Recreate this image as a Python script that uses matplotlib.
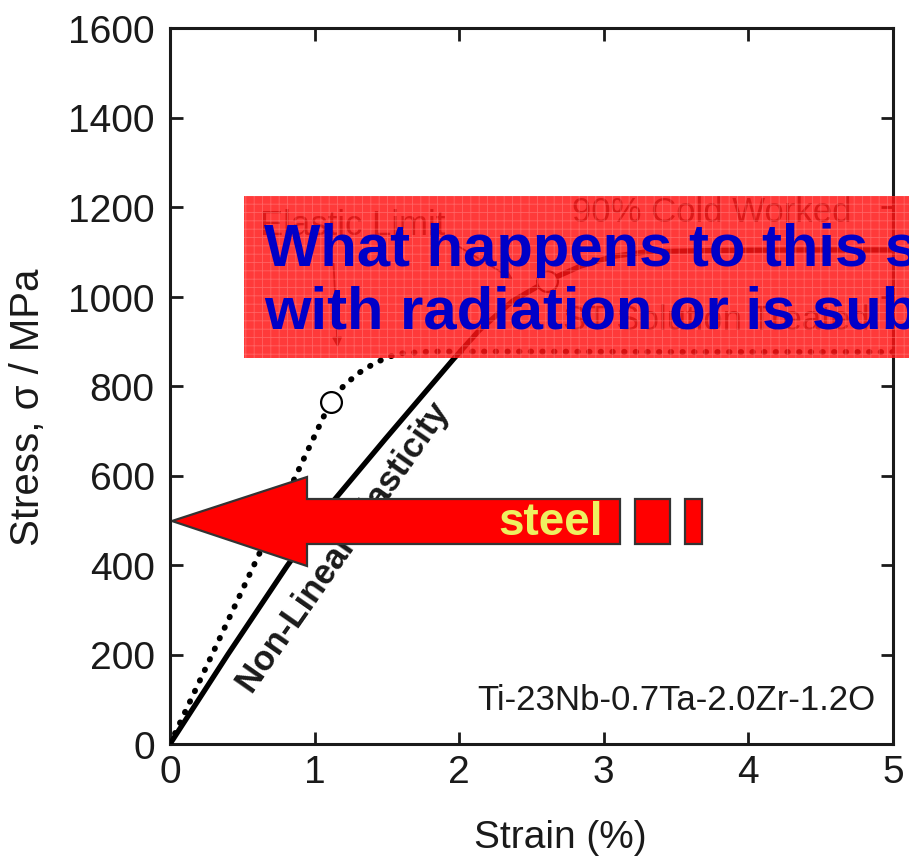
import matplotlib
matplotlib.use("Agg")
import matplotlib.pyplot as plt
from matplotlib.patches import Rectangle, Polygon

plt.rcParams['font.family'] = ['Liberation Sans', 'DejaVu Sans']

# 90% cold worked alloy (solid curve)
cw_strain = [0.0, 0.40, 0.81, 1.14, 1.49, 1.96, 2.14, 2.37, 2.61, 2.84, 3.07, 3.30, 3.80, 4.40, 5.00]
cw_stress = [0, 200, 398, 547, 682, 860, 925, 990, 1035, 1068, 1090, 1100, 1103, 1104, 1104]

# solution treated alloy (dotted curve)
st_strain = [0.0, 0.30, 0.60, 0.90, 1.11, 1.20, 1.30, 1.40, 1.50, 1.60, 1.80, 2.50, 3.50, 5.00]
st_stress = [0, 206, 413, 620, 764, 800, 828, 848, 864, 873, 877, 877, 876, 876]

# elastic limits (open circles)
limit_strain = [1.11, 2.61]
limit_stress = [764, 1035]

x_ticks = [0, 1, 2, 3, 4, 5]
y_ticks = [0, 200, 400, 600, 800, 1000, 1200, 1400, 1600]

W, H = 909, 862
fig = plt.figure(figsize=(W / 100, H / 100), dpi=100)


def fx(px):
    return px / W


def fy(py):
    return 1 - py / H


ax = fig.add_axes([fx(170), fy(745), 723 / W, 716 / H])

ax.plot(cw_strain, cw_stress, color='black', lw=3.8, solid_capstyle='round', zorder=3)
ax.plot(st_strain, st_stress, color='black', lw=4.2, linestyle=(0, (0.1, 1.9)),
        dash_capstyle='round', zorder=3)
ax.plot(limit_strain, limit_stress, linestyle='none', marker='o', ms=15,
        mfc='white', mec='black', mew=1.6, zorder=4)

ax.set_xlim(0, 5)
ax.set_ylim(0, 1600)
ax.set_xticks(x_ticks)
ax.set_yticks(y_ticks)
ax.tick_params(direction='in', length=9, width=2, top=True, right=True,
               labelsize=28, colors='#1a1a1a')
ax.tick_params(axis='x', pad=7)
ax.tick_params(axis='y', pad=11)
for s in ax.spines.values():
    s.set_linewidth(2.2)
    s.set_color('#1a1a1a')

ax.set_xlabel('Strain (%)', fontsize=28, color='#1a1a1a')
ax.xaxis.set_label_coords(0.54, -0.105)
ax.set_ylabel('Stress, σ / MPa', fontsize=29, color='#1a1a1a')
ax.yaxis.set_label_coords(-0.17, 0.472)

# annotations inside the plot
ax.text(0.62, 1140, 'Elastic Limit', fontsize=25, color='#333333', ha='left', va='baseline')
ax.text(2.78, 1169, '90% Cold Worked', fontsize=25, color='#333333', ha='left', va='baseline')
ax.text(2.72, 927, 'ST Solution Treated', fontsize=25, color='#333333', ha='left', va='baseline')
ax.text(4.88, 78, 'Ti-23Nb-0.7Ta-2.0Zr-1.2O', fontsize=25, color='#1a1a1a',
        ha='right', va='baseline')
ax.text(1.20, 440, 'Non-Linear Elasticity', fontsize=25, fontweight='bold', color='#1a1a1a',
        rotation=55, rotation_mode='anchor', ha='center', va='center')

ax.annotate('', xy=(1.16, 880), xytext=(1.13, 1080),
            arrowprops=dict(arrowstyle='-|>', color='#333333', lw=1.3, mutation_scale=14))
ax.annotate('', xy=(2.39, 1035), xytext=(1.97, 1117),
            arrowprops=dict(arrowstyle='-|>', color='#333333', lw=1.3, mutation_scale=14))

# red "steel" arrow pointing at the stress axis
arrow_px = [(172, 522), (307, 478), (307, 500), (620, 500),
            (620, 545), (307, 545), (307, 567)]
fig.patches.append(Polygon([(fx(x), fy(y)) for x, y in arrow_px], closed=True,
                           transform=fig.transFigure, facecolor='#ff0000',
                           edgecolor='#333333', lw=1.6, zorder=4))
for x0, x1 in [(635, 670), (685, 702)]:
    fig.patches.append(Rectangle((fx(x0), fy(545)), (x1 - x0) / W, 45 / H,
                                 transform=fig.transFigure, facecolor='#ff0000',
                                 edgecolor='#333333', lw=1.6, zorder=4))
fig.text(fx(498), fy(535), 'steel', fontsize=33, fontweight='bold', color='#eef060',
         ha='left', va='baseline', zorder=6)

# translucent red banner with the question
banner_x, banner_top, banner_bot = 244, 197, 359
fig.patches.append(Rectangle((fx(banner_x), fy(banner_bot)), 1.05 - fx(banner_x),
                             (banner_bot - banner_top) / H, transform=fig.transFigure,
                             facecolor=(1.0, 0.08, 0.08), alpha=0.84, lw=0, zorder=5))
plt.rcParams['hatch.linewidth'] = 0.6
fig.patches.append(Rectangle((fx(banner_x), fy(banner_bot)), 1.05 - fx(banner_x),
                             (banner_bot - banner_top) / H, transform=fig.transFigure,
                             facecolor='none', edgecolor=(1.0, 0.55, 0.55), hatch='++',
                             alpha=0.5, lw=0, zorder=5))
fig.text(fx(264), fy(266), 'What happens to this steel', fontsize=43, fontweight='bold',
         color='#0000c8', ha='left', va='baseline', zorder=7)
fig.text(fx(264), fy(329), 'with radiation or is subjected', fontsize=43, fontweight='bold',
         color='#0000c8', ha='left', va='baseline', zorder=7)

fig.savefig('out.png', dpi=100)
